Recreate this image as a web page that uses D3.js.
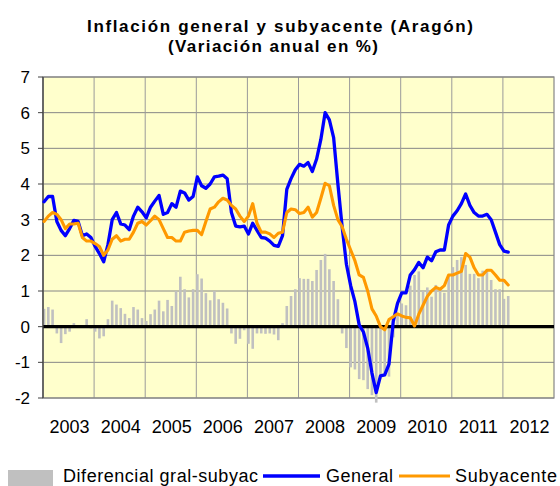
<!DOCTYPE html>
<html>
<head>
<meta charset="utf-8">
<script src="https://cdn.jsdelivr.net/npm/d3@7"></script>
<style>
html,body{margin:0;padding:0;background:#fff;}
svg{display:block;}
text{font-family:"Liberation Sans",Arial,sans-serif;fill:#000;}
</style>
</head>
<body>
<svg id="chart" width="560" height="486"></svg>
<script>
// Monthly data, Jan 2003 .. Feb 2012
const years = ["2003","2004","2005","2006","2007","2008","2009","2010","2011","2012"];
const yTicks = [-2,-1,0,1,2,3,4,5,6,7];

const general = [
  3.5,3.65,3.65,2.95,2.7,2.55,2.75,2.98,2.95,2.55,2.6,2.5,
  2.25,2.05,1.82,2.3,3.0,3.2,2.88,2.85,2.72,3.1,3.35,3.22,
  3.05,3.35,3.52,3.68,3.15,3.2,3.45,3.35,3.8,3.75,3.55,3.65,
  4.2,3.95,3.88,4.0,4.2,4.22,4.25,4.15,3.2,2.82,2.8,2.82,
  2.6,2.9,2.7,2.5,2.48,2.4,2.28,2.25,2.55,3.85,4.15,4.4,
  4.55,4.5,4.6,4.35,4.7,5.25,6.0,5.8,5.3,4.0,2.8,1.75,
  1.15,0.7,0.05,-0.15,-0.6,-1.3,-1.85,-1.38,-1.35,-1.05,0.15,0.65,
  0.95,0.95,1.45,1.6,1.8,1.65,1.95,1.85,2.1,2.15,2.15,2.85,
  3.1,3.25,3.45,3.72,3.4,3.2,3.1,3.1,3.15,3.0,2.65,2.3,
  2.12,2.09
];
const subyacente = [
  2.95,3.1,3.2,3.15,3.0,2.75,2.88,2.88,2.9,2.5,2.4,2.4,
  2.33,2.25,2.0,2.15,2.45,2.55,2.4,2.45,2.45,2.65,2.9,2.95,
  2.85,2.97,3.1,3.0,2.75,2.5,2.5,2.4,2.4,2.65,2.68,2.7,
  2.7,2.58,2.95,3.3,3.35,3.5,3.6,3.55,3.4,3.3,3.1,2.95,
  3.1,3.45,2.9,2.65,2.65,2.6,2.5,2.62,2.65,3.2,3.3,3.28,
  3.17,3.2,3.35,3.07,3.2,3.6,4.02,3.95,3.4,3.0,2.8,2.45,
  2.15,1.85,1.45,1.38,1.0,0.5,0.3,0.0,-0.09,0.2,0.28,0.36,
  0.3,0.26,0.25,0.02,0.35,0.6,0.85,1.0,1.1,1.05,1.15,1.45,
  1.45,1.5,1.55,2.05,1.95,1.65,1.45,1.45,1.58,1.58,1.45,1.3,
  1.3,1.17
];
const diferencial = [
  0.5,0.55,0.48,-0.19,-0.46,-0.21,-0.14,0.1,0.02,-0.03,0.21,-0.05,
  -0.14,-0.33,-0.27,0.21,0.73,0.62,0.52,0.36,0.24,0.55,0.48,0.24,
  0.16,0.35,0.48,0.73,0.43,0.75,0.58,1.0,1.4,1.05,0.82,1.05,
  1.47,1.35,0.94,0.74,1.0,0.77,0.67,0.51,-0.19,-0.48,-0.34,-0.1,
  -0.48,-0.62,-0.19,-0.19,-0.2,-0.19,-0.22,-0.38,0.1,0.58,0.86,1.05,
  1.36,1.34,1.34,1.28,1.59,1.87,2.04,1.61,1.28,0.77,-0.19,-0.6,
  -1.14,-1.2,-1.47,-1.5,-1.75,-1.92,-2.13,-1.45,-1.3,-1.4,-0.3,0.35,
  0.65,0.6,1.15,1.45,1.55,1.0,1.1,0.84,1.17,1.08,0.95,1.45,
  1.67,1.87,1.95,1.73,1.48,1.48,1.36,1.57,1.57,1.31,1.05,1.05,
  0.78,0.86
];
const seriesNames = ["Diferencial gral-subyac","General","Subyacente"];
const titleLines = ["Inflación general y subyacente (Aragón)","(Variación anual en %)"];

const svg = d3.select("#chart");
const L = 43, R = 554, T = 77, B = 398;
const x = d3.scaleLinear().domain([0, 120]).range([L, R]);
const y = d3.scaleLinear().domain([-2, 7]).range([B, T]);
const px = i => x(i + 0.25);

// plot background
svg.append("rect").attr("x", L).attr("y", T).attr("width", R - L).attr("height", B - T)
  .attr("fill", "#ffffcc");

// horizontal gridlines
svg.append("g").selectAll("line").data(yTicks.filter(v => v !== 0)).join("line")
  .attr("x1", L).attr("x2", R).attr("y1", d => y(d)).attr("y2", d => y(d))
  .attr("stroke", "#868686").attr("stroke-width", 1);

// vertical gridlines
svg.append("g").selectAll("line").data(d3.range(1, 10)).join("line")
  .attr("x1", d => x(d * 12)).attr("x2", d => x(d * 12)).attr("y1", T).attr("y2", B)
  .attr("stroke", "#9a9a9a").attr("stroke-width", 1);

// border
svg.append("rect").attr("x", L).attr("y", T).attr("width", R - L).attr("height", B - T)
  .attr("fill", "none").attr("stroke", "#868686").attr("stroke-width", 1.2);

// bars
const bw = 2.6;
svg.append("g").selectAll("rect").data(diferencial).join("rect")
  .attr("x", (d, i) => px(i) - bw / 2)
  .attr("width", bw)
  .attr("y", d => y(Math.max(0, d)))
  .attr("height", d => Math.abs(y(d) - y(0)))
  .attr("fill", "#c0c0c0");

// zero line
svg.append("line").attr("x1", L).attr("x2", R).attr("y1", y(0)).attr("y2", y(0))
  .attr("stroke", "#000").attr("stroke-width", 3.2);

// left axis
svg.append("line").attr("x1", L).attr("x2", L).attr("y1", T).attr("y2", B)
  .attr("stroke", "#404040").attr("stroke-width", 1.3);
svg.append("g").selectAll("line").data(yTicks).join("line")
  .attr("x1", L - 5).attr("x2", L).attr("y1", d => y(d)).attr("y2", d => y(d))
  .attr("stroke", "#404040").attr("stroke-width", 1);
svg.append("g").selectAll("text").data(yTicks).join("text")
  .attr("x", 30).attr("y", d => y(d) + 6)
  .attr("text-anchor", "end").attr("font-size", 17)
  .text(d => d);

// lines
const line = d3.line().x((d, i) => px(i)).y(d => y(d)).curve(d3.curveLinear);
svg.append("path").datum(general).attr("d", line)
  .attr("fill", "none").attr("stroke", "#0000ff").attr("stroke-width", 3.3)
  .attr("stroke-linejoin", "round").attr("stroke-linecap", "round");
svg.append("path").datum(subyacente).attr("d", line)
  .attr("fill", "none").attr("stroke", "#ff9900").attr("stroke-width", 3.1)
  .attr("stroke-linejoin", "round").attr("stroke-linecap", "round");

// x labels
svg.append("g").selectAll("text").data(years).join("text")
  .attr("x", (d, i) => x(i * 12 + 6) + 1).attr("y", 433)
  .attr("text-anchor", "middle").attr("font-size", 18)
  .text(d => d);

// title
svg.append("text").attr("x", 280).attr("y", 32).attr("text-anchor", "middle")
  .attr("font-size", 17).attr("font-weight", "bold")
  .attr("textLength", 386).attr("lengthAdjust", "spacing")
  .text(titleLines[0]);
svg.append("text").attr("x", 273).attr("y", 52).attr("text-anchor", "middle")
  .attr("font-size", 17).attr("font-weight", "bold")
  .attr("textLength", 210).attr("lengthAdjust", "spacing")
  .text(titleLines[1]);

// legend
const lg = svg.append("g");
lg.append("rect").attr("x", 8).attr("y", 470).attr("width", 45).attr("height", 16).attr("fill", "#c0c0c0");
lg.append("text").attr("x", 63).attr("y", 482).attr("font-size", 18)
  .attr("textLength", 195).attr("lengthAdjust", "spacing").text(seriesNames[0]);
lg.append("line").attr("x1", 263).attr("x2", 320).attr("y1", 476).attr("y2", 476)
  .attr("stroke", "#0000ff").attr("stroke-width", 3.3);
lg.append("text").attr("x", 326).attr("y", 482).attr("font-size", 18)
  .attr("textLength", 67).attr("lengthAdjust", "spacing").text(seriesNames[1]);
lg.append("line").attr("x1", 399).attr("x2", 450).attr("y1", 476).attr("y2", 476)
  .attr("stroke", "#ff9900").attr("stroke-width", 3.1);
lg.append("text").attr("x", 455).attr("y", 482).attr("font-size", 18)
  .attr("textLength", 102).attr("lengthAdjust", "spacing").text(seriesNames[2]);
</script>
</body>
</html>
